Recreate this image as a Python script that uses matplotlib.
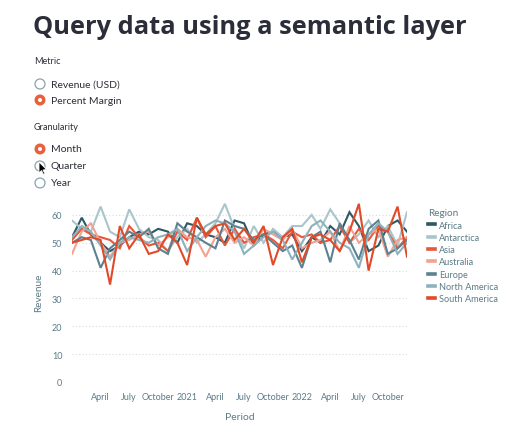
import matplotlib.pyplot as plt
import matplotlib.dates as mdates
from matplotlib.patches import Circle, Polygon
import numpy as np
import pandas as pd

# Data (Percent Margin by month)
periods = pd.date_range("2020-01-01", "2022-12-01", freq="MS")

africa = [52, 59, 53, 50, 47, 49, 52, 54, 53, 55, 54, 50, 57, 56, 53, 52, 50, 58,
          57, 49, 53, 54, 52, 53, 47, 52, 50, 56, 53, 61, 56, 47, 49, 56, 58, 54]
antarctica = [58, 55, 54, 63, 54, 52, 62, 55, 52, 51, 47, 52, 55, 50, 53, 57, 64, 55,
              48, 56, 50, 55, 52, 56, 56, 60, 55, 62, 57, 50, 53, 58, 52, 56, 49, 61]
asia = [51, 55, 53, 52, 51, 48, 56, 52, 49, 50, 47, 54, 51, 59, 52, 56, 49, 55,
        50, 52, 53, 51, 48, 54, 52, 53, 50, 51, 56, 50, 55, 51, 56, 54, 48, 52]
australia = [46, 54, 57, 50, 45, 50, 51, 53, 54, 49, 52, 55, 52, 51, 45, 52, 55, 50,
             52, 49, 55, 53, 51, 55, 48, 50, 51, 54, 47, 56, 50, 53, 55, 45, 51, 52]
europe = [50, 52, 51, 41, 48, 51, 54, 52, 55, 48, 46, 57, 54, 52, 50, 48, 58, 56,
          55, 51, 53, 50, 47, 49, 41, 52, 54, 43, 57, 51, 44, 55, 58, 46, 48, 51]
north_america = [52, 56, 54, 49, 44, 50, 52, 51, 50, 52, 53, 55, 47, 52, 56, 58, 57, 54,
                 46, 49, 52, 54, 51, 44, 50, 56, 58, 54, 50, 48, 41, 53, 57, 54, 46, 50]
south_america = [50, 51, 52, 51, 35, 56, 48, 53, 46, 47, 53, 50, 42, 59, 53, 56, 57, 51,
                 55, 50, 56, 42, 52, 55, 43, 52, 53, 51, 47, 54, 64, 40, 55, 54, 63, 45]

regions = ["Africa", "Antarctica", "Asia", "Australia", "Europe",
           "North America", "South America"]
series = [africa, antarctica, asia, australia, europe, north_america, south_america]
colors = ["#2f5866", "#a9c5cc", "#e8573a", "#f2a293", "#5b8290", "#8db2bb", "#e04a28"]

W, H = 510, 435
dark = "#2b2e38"
axis_col = "#5a7b86"
font = "Lato"

fig = plt.figure(figsize=(W / 100, H / 100), dpi=100)
fig.patch.set_facecolor("white")

# Overlay in pixel coordinates for the app widgets
ov = fig.add_axes([0, 0, 1, 1])
ov.set_xlim(0, W)
ov.set_ylim(H, 0)
ov.axis("off")

ov.text(33, 27, "Query data using a semantic layer", fontsize=18.3, fontweight="bold",
        color=dark, family="Open Sans", va="center", ha="left")

ov.text(34, 62, "Metric", fontsize=6.6, color=dark, family=font, va="center")
ov.text(34, 128, "Granularity", fontsize=6.6, color=dark, family=font, va="center")

radios = [("Revenue (USD)", 85, False), ("Percent Margin", 101, True),
          ("Month", 150, True), ("Quarter", 167, False), ("Year", 184, False)]
for label, y, sel in radios:
    if sel:
        ov.add_patch(Circle((40, y), 5.5, facecolor="#e8603c", edgecolor="#e8603c", lw=0))
        ov.add_patch(Circle((40, y), 2.0, facecolor="white", lw=0))
    else:
        ov.add_patch(Circle((40, y), 5.0, facecolor="white", edgecolor="#8aa3ab", lw=0.9))
    ov.text(51, y, label, fontsize=7.5, color=dark, family=font, va="center")

# mouse cursor near "Quarter"
ov.add_patch(Polygon([(39, 163), (39, 174), (41.5, 171.5), (43.5, 175.5), (45, 174.8),
                      (43, 171), (46.5, 170.5)], closed=True, facecolor="black",
                     edgecolor="white", lw=0.6))

# Chart
x0, x1, ytop, ybot = 72, 407, 202, 383
ax = fig.add_axes([x0 / W, 1 - ybot / H, (x1 - x0) / W, (ybot - ytop) / H])
ax.patch.set_alpha(0)
for name, vals, c in zip(regions, series, colors):
    ax.plot(periods, vals, color=c, lw=1.5, label=name, solid_joinstyle="miter")

ax.set_xlim(periods[0], periods[-1])
ax.set_ylim(0, 65)
ax.set_yticks(range(0, 61, 10))
ax.grid(axis="y", color="#d5dbe0", linestyle=(0, (1, 2)), lw=0.8)
ax.set_axisbelow(True)
for s in ax.spines.values():
    s.set_visible(False)

ticks = [d for d in periods[1:] if d.month in (1, 4, 7, 10)]
labels = [str(d.year) if d.month == 1 else d.strftime("%B") for d in ticks]
ax.set_xticks(ticks)
ax.set_xticklabels(labels)
ax.tick_params(axis="both", length=0, labelsize=6.5, labelcolor=axis_col, pad=7)
for t in ax.get_xticklabels() + ax.get_yticklabels():
    t.set_family(font)

ax.set_ylabel("Revenue", fontsize=7.2, color=axis_col, family=font, labelpad=6)
ax.set_xlabel("Period", fontsize=7.5, color=axis_col, family=font, labelpad=8)

leg = ax.legend(loc="upper left", bbox_to_anchor=(420 / W, 1 - 201 / H),
                bbox_transform=fig.transFigure, frameon=False, title="Region",
                handlelength=0.7, handletextpad=0.5, labelspacing=0.36,
                prop={"family": font, "size": 6.6}, alignment="left")
leg.get_title().set_color(axis_col)
leg.get_title().set_fontsize(7.2)
leg.get_title().set_family(font)
for t in leg.get_texts():
    t.set_color(axis_col)
for h in leg.get_lines():
    h.set_linewidth(2.6)

fig.savefig("out.png", dpi=100, facecolor="white")
